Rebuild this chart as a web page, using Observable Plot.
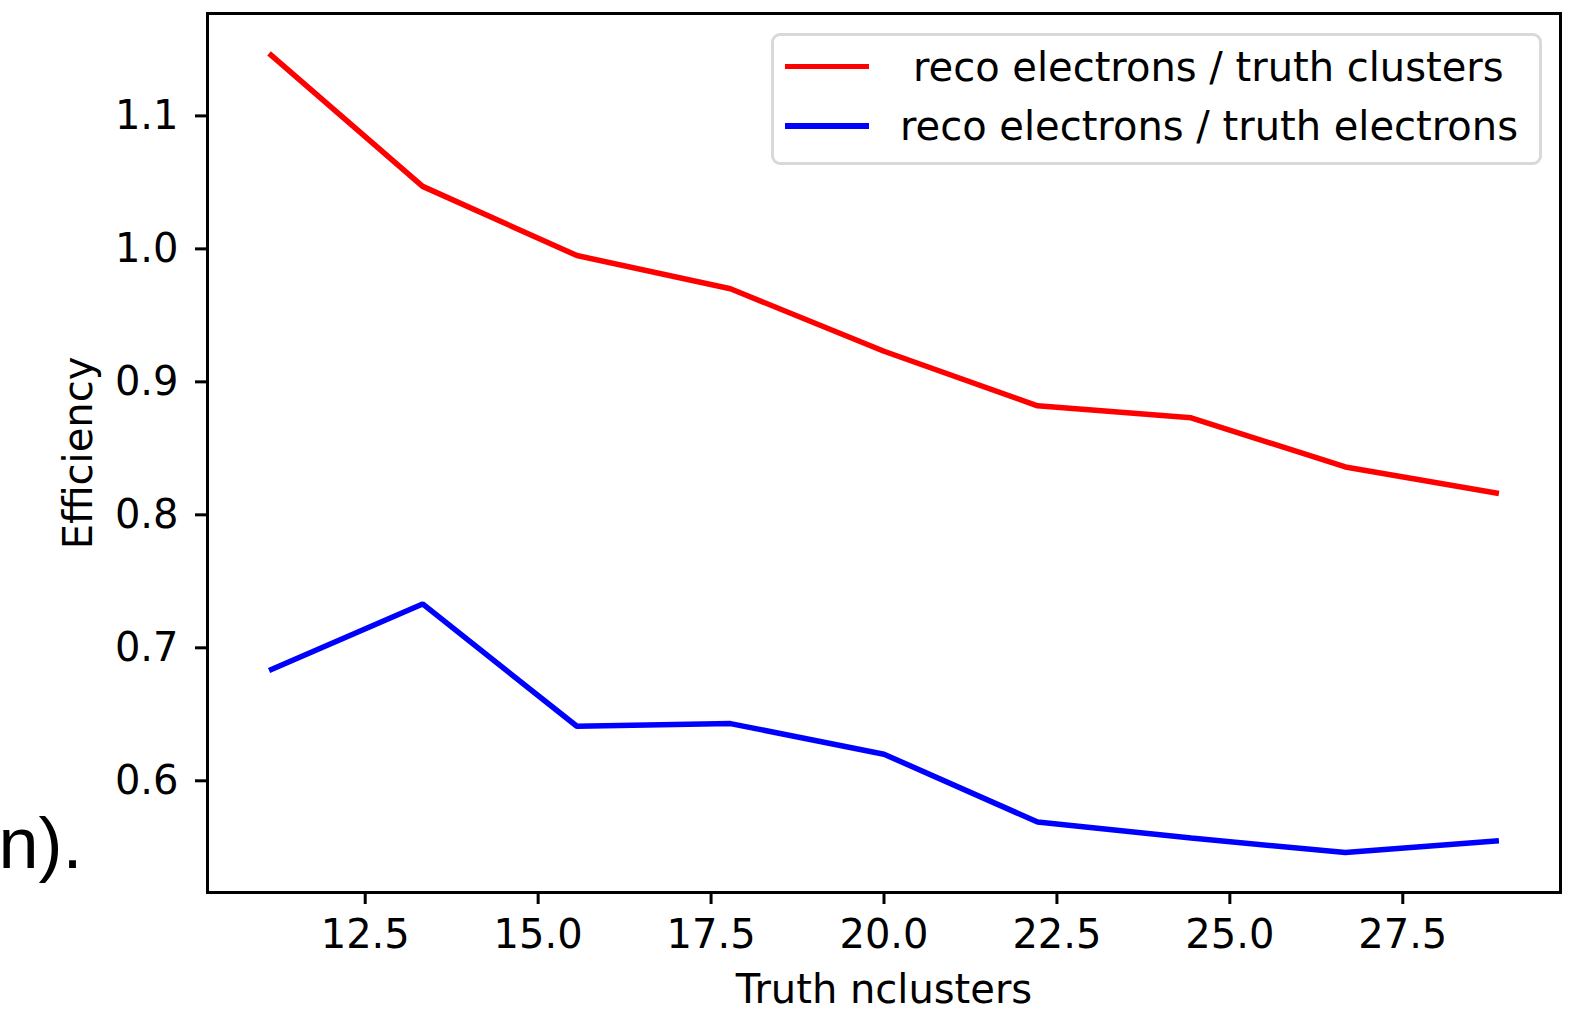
<!DOCTYPE html>
<html>
<head>
<meta charset="utf-8">
<script src="https://cdn.jsdelivr.net/npm/d3@7"></script>
<script src="https://cdn.jsdelivr.net/npm/@observablehq/plot@0.6"></script>
<style>
  html, body { margin: 0; padding: 0; background: #fff; }
  #wrap { position: relative; width: 1578px; height: 1011px; overflow: hidden; font-family: "DejaVu Sans", sans-serif; }
  #legend { position: absolute; left: 771px; top: 33px; width: 771px; height: 132px; border: 3px solid #d9d9d9; border-radius: 9px; background: rgba(255,255,255,0.8); box-sizing: border-box; }
  .item { position: absolute; left: 0; height: 40px; display: flex; align-items: center; font-size: 40px; color: #000; white-space: pre; }
  .swatch { display: inline-block; width: 84px; height: 5.5px; margin-left: 11px; }
</style>
</head>
<body>
<div id="wrap"></div>
<script>
const nclusters = [11.11, 13.33, 15.56, 17.78, 20.0, 22.22, 24.44, 26.67, 28.89];
const effClusters = [1.147, 1.047, 0.995, 0.970, 0.923, 0.882, 0.873, 0.836, 0.816];
const effElectrons = [0.683, 0.733, 0.641, 0.643, 0.620, 0.569, 0.557, 0.546, 0.555];
const seriesNames = [" reco electrons / truth clusters", "reco electrons / truth electrons"];
const seriesColors = ["#ff0000", "#0000ff"];
const xTicks = [12.5, 15.0, 17.5, 20.0, 22.5, 25.0, 27.5];
const yTicks = [0.6, 0.7, 0.8, 0.9, 1.0, 1.1];

const rows = [];
nclusters.forEach((x, i) => {
  rows.push({x, y: effClusters[i], s: seriesNames[0]});
});
nclusters.forEach((x, i) => {
  rows.push({x, y: effElectrons[i], s: seriesNames[1]});
});

const chart = Plot.plot({
  width: 1578,
  height: 1011,
  marginLeft: 207,
  marginRight: 18,
  marginTop: 13,
  marginBottom: 119,
  style: {fontFamily: "DejaVu Sans, sans-serif", fontSize: "40px", color: "#000", background: "#fff"},
  x: {domain: [10.22, 29.78]},
  y: {domain: [0.516, 1.177]},
  color: {domain: seriesNames, range: seriesColors},
  marks: [
    Plot.axisX({ticks: xTicks, tickFormat: d => d.toFixed(1), tickSize: 12, tickPadding: 15, strokeWidth: 3, fontSize: 40, label: null}),
    Plot.axisY({ticks: yTicks, tickFormat: d => d.toFixed(1), tickSize: 12, tickPadding: 17, strokeWidth: 3, fontSize: 40, label: null}),
    Plot.line(rows, {x: "x", y: "y", z: "s", stroke: "s", strokeWidth: 5.5, strokeLinejoin: "miter", strokeLinecap: "butt"}),
    Plot.frame({stroke: "#000", strokeWidth: 3}),
    Plot.text(["Efficiency"], {frameAnchor: "left", text: d => d, rotate: -90, dx: -128, fontSize: 40, textAnchor: "middle", lineAnchor: "middle"}),
    Plot.text(["Truth nclusters"], {frameAnchor: "bottom", text: d => d, dy: 98, fontSize: 40, textAnchor: "middle", lineAnchor: "middle"}),
    Plot.text(["n)."], {frameAnchor: "bottom-left", text: d => d, dx: -209, dy: -48, fontSize: 72, textAnchor: "start", lineAnchor: "middle", fontFamily: "Liberation Sans, Arial, sans-serif"})
  ]
});
const wrap = document.getElementById("wrap");
wrap.appendChild(chart);

const legend = document.createElement("div");
legend.id = "legend";
const tops = [10.5, 70];
const textLefts = [44, 31];
seriesNames.forEach((name, i) => {
  const item = document.createElement("div");
  item.className = "item";
  item.style.top = tops[i] + "px";
  const sw = document.createElement("span");
  sw.className = "swatch";
  sw.style.background = seriesColors[i];
  const tx = document.createElement("span");
  tx.textContent = name.trim();
  tx.style.marginLeft = (textLefts[i]) + "px";
  item.appendChild(sw);
  item.appendChild(tx);
  legend.appendChild(item);
});
wrap.appendChild(legend);
</script>
</body>
</html>
